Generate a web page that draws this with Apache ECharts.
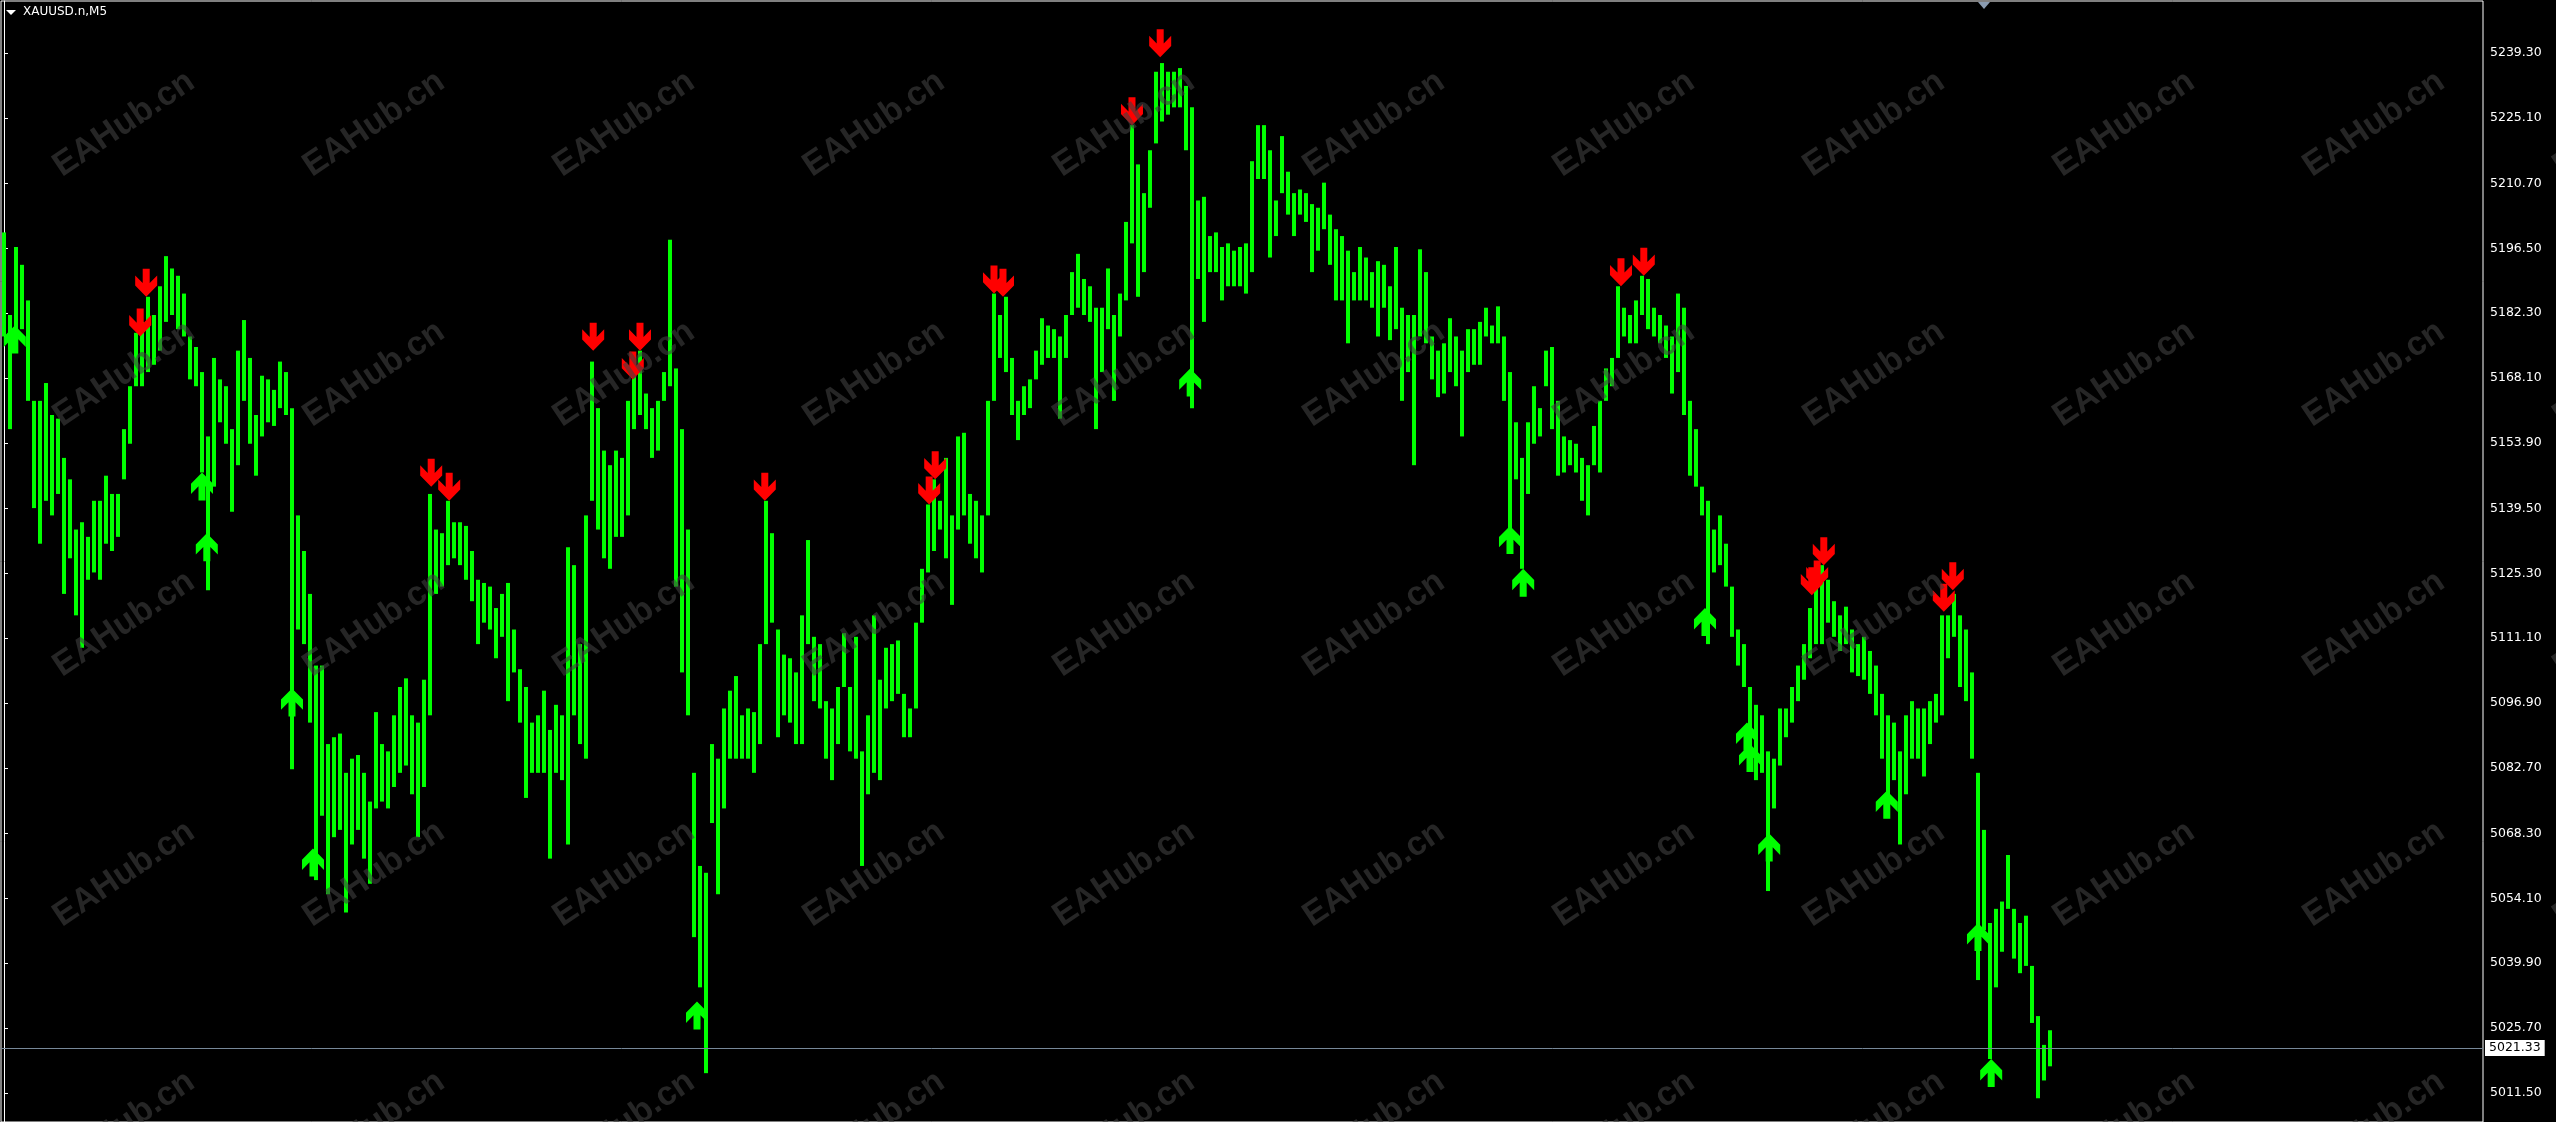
<!DOCTYPE html>
<html><head><meta charset="utf-8">
<script src="https://cdn.jsdelivr.net/npm/echarts@6/dist/echarts.min.js"></script>
<style>html,body{margin:0;padding:0;background:#000;overflow:hidden}#c{width:2556px;height:1122px}</style>
</head><body><div id="c"></div>
<script>
const symbolTitle = 'XAUUSD.n,M5';
const watermarkText = 'EAHub.cn';
const lastPrice = 5021.33;
const priceTicks = [5011.5,5025.7,5039.9,5054.1,5068.3,5082.7,5096.9,5111.1,5125.3,5139.5,5153.9,5168.1,5182.3,5196.5,5210.7,5225.1,5239.3];

const highs = [
5200.0,5181.9,5196.8,5192.9,5185.1,5163.1,5163.1,5167.0,5160.0,5159.2,
5150.6,5145.9,5134.9,5136.5,5133.3,5141.2,5141.2,5146.7,5142.7,5142.7,
5156.9,5166.3,5178.0,5180.4,5185.9,5181.9,5188.2,5194.8,5192.1,5190.5,
5186.6,5177.2,5174.9,5169.4,5155.3,5172.5,5167.8,5166.3,5156.9,5174.1,
5180.8,5172.5,5160.0,5168.6,5167.8,5165.5,5171.7,5169.4,5161.5,5138.0,
5130.2,5120.8,5105.1,5105.1,5087.9,5089.4,5090.2,5081.6,5084.7,5085.5,
5081.6,5075.3,5094.9,5087.9,5086.3,5094.2,5100.4,5102.3,5094.2,5092.6,
5102.0,5142.7,5134.9,5134.1,5141.2,5136.5,5136.5,5135.7,5130.2,5123.9,
5123.2,5122.4,5117.7,5120.8,5123.2,5113.0,5104.3,5100.4,5092.6,5094.2,
5099.6,5091.0,5096.5,5094.2,5131.0,5127.1,5109.8,5138.0,5171.7,5161.5,
5152.2,5149.0,5152.2,5150.6,5163.1,5169.4,5174.1,5164.7,5161.5,5163.1,
5169.4,5198.4,5170.2,5156.9,5134.9,5081.6,5061.2,5059.7,5087.9,5084.7,
5095.7,5099.6,5102.8,5094.2,5095.7,5094.9,5109.8,5141.2,5134.1,5113.0,
5107.5,5106.7,5103.6,5116.1,5132.6,5111.4,5109.8,5097.3,5095.7,5100.4,
5112.2,5100.4,5111.4,5086.3,5094.2,5116.1,5102.0,5109.0,5109.8,5110.6,
5098.9,5095.7,5114.5,5126.3,5140.4,5145.9,5141.2,5150.6,5138.0,5155.3,
5156.1,5142.7,5141.2,5138.0,5163.1,5186.6,5181.9,5185.9,5172.5,5163.1,
5166.3,5167.8,5174.1,5181.2,5179.6,5178.8,5177.2,5181.9,5191.3,5195.3,
5189.8,5188.2,5183.5,5183.5,5192.1,5181.9,5186.6,5202.3,5223.5,5214.9,
5208.6,5218.0,5235.2,5237.1,5235.2,5235.2,5236.0,5232.1,5227.4,5207.0,
5207.8,5199.2,5200.0,5196.8,5197.6,5196.0,5196.8,5197.6,5215.6,5223.5,
5223.5,5218.0,5207.0,5221.1,5213.3,5208.6,5209.4,5208.6,5206.2,5205.4,
5210.9,5203.9,5200.7,5199.2,5196.0,5191.3,5196.8,5194.5,5191.3,5193.7,
5192.9,5188.2,5196.8,5183.5,5181.9,5181.9,5196.3,5191.3,5177.2,5174.1,
5175.7,5181.2,5177.2,5174.1,5178.8,5178.8,5180.4,5183.5,5179.6,5183.8,
5177.2,5169.4,5158.4,5150.6,5158.4,5166.3,5161.5,5174.1,5174.9,5163.1,
5155.3,5154.5,5153.7,5150.6,5149.0,5157.6,5163.1,5170.2,5172.5,5188.2,
5183.5,5181.9,5185.1,5190.5,5189.8,5183.5,5181.9,5179.6,5177.2,5186.6,
5183.5,5163.1,5156.9,5144.3,5141.2,5134.9,5138.0,5131.8,5122.4,5113.0,
5109.8,5100.4,5096.5,5094.2,5086.3,5084.7,5095.7,5095.7,5100.4,5105.1,
5109.8,5117.7,5122.4,5127.1,5123.9,5119.2,5116.1,5118.0,5113.0,5109.8,
5111.4,5108.3,5105.1,5098.9,5094.2,5092.6,5086.3,5094.2,5097.3,5095.7,
5095.7,5097.3,5098.9,5116.1,5116.1,5120.8,5116.1,5113.0,5103.6,5081.6,
5069.1,5048.7,5051.8,5053.4,5063.6,5051.8,5048.7,5050.3,5039.3,5028.3,
5022.0,5025.2];

const lows = [
5177.2,5156.9,5175.7,5178.8,5163.1,5139.6,5131.8,5141.2,5138.0,5142.7,
5120.8,5128.6,5116.1,5109.0,5123.9,5125.5,5123.9,5131.8,5130.2,5133.3,
5145.9,5153.7,5166.3,5166.3,5169.4,5171.0,5174.1,5180.4,5181.9,5178.8,
5177.2,5167.8,5166.3,5147.4,5121.6,5144.3,5158.4,5153.7,5138.8,5149.0,
5163.1,5153.7,5146.7,5155.3,5158.4,5157.6,5161.5,5160.0,5082.4,5113.0,
5109.8,5092.6,5058.1,5072.2,5055.0,5067.5,5069.1,5051.0,5065.9,5069.1,
5062.8,5057.3,5073.8,5075.3,5073.8,5078.5,5081.6,5083.2,5076.9,5067.5,
5078.5,5094.2,5120.8,5122.4,5127.1,5128.6,5127.1,5123.9,5119.2,5109.8,
5114.5,5113.0,5106.7,5111.4,5097.3,5103.6,5092.6,5076.1,5081.6,5081.6,
5081.6,5062.8,5081.6,5080.0,5065.9,5094.2,5087.9,5084.7,5141.2,5134.9,
5128.6,5126.3,5133.3,5133.3,5138.0,5156.9,5160.0,5156.9,5150.6,5152.2,
5163.1,5166.3,5122.4,5103.6,5094.2,5045.6,5034.6,5015.8,5070.6,5055.0,
5073.8,5084.7,5084.7,5084.7,5084.7,5081.6,5087.9,5109.8,5114.5,5089.4,
5094.2,5092.6,5087.9,5087.9,5109.8,5097.3,5095.7,5084.7,5080.0,5087.9,
5100.4,5086.3,5084.7,5061.2,5076.9,5081.6,5080.0,5095.7,5097.3,5098.9,
5089.4,5089.4,5095.7,5114.5,5125.5,5130.2,5134.9,5128.6,5118.4,5134.9,
5138.0,5131.8,5128.6,5125.5,5138.0,5163.1,5172.5,5169.4,5160.0,5154.5,
5160.0,5161.5,5167.8,5171.0,5172.5,5172.5,5159.2,5172.5,5181.9,5183.5,
5181.9,5180.4,5156.9,5169.4,5178.8,5163.1,5177.2,5185.1,5197.6,5185.9,
5191.3,5205.4,5219.5,5224.3,5225.8,5227.4,5227.4,5218.0,5161.5,5189.8,
5180.4,5191.3,5191.3,5185.1,5188.2,5188.2,5188.2,5186.6,5191.3,5211.7,
5211.7,5194.5,5199.2,5208.6,5203.9,5199.2,5203.9,5202.3,5191.3,5196.0,
5200.7,5192.9,5185.1,5185.1,5175.7,5185.1,5185.1,5185.1,5183.5,5177.2,
5183.5,5176.4,5178.8,5163.1,5169.4,5149.0,5177.2,5175.7,5167.8,5163.9,
5164.7,5169.4,5166.3,5155.3,5169.4,5171.0,5171.0,5177.2,5175.7,5175.7,
5163.1,5131.8,5145.9,5126.3,5142.7,5153.7,5155.3,5166.3,5156.9,5146.7,
5147.4,5149.0,5147.4,5141.2,5138.0,5149.0,5147.4,5163.1,5166.3,5172.5,
5177.2,5175.7,5175.7,5181.9,5178.8,5177.2,5175.7,5172.5,5164.7,5169.4,
5160.0,5146.7,5144.3,5138.0,5109.8,5125.5,5127.1,5122.4,5111.4,5105.1,
5100.4,5084.7,5080.0,5081.6,5055.7,5073.8,5083.2,5089.4,5092.6,5097.3,
5102.0,5106.7,5109.8,5109.8,5114.5,5111.4,5108.3,5109.8,5103.6,5102.8,
5102.0,5098.9,5094.2,5084.7,5072.2,5080.0,5065.9,5076.9,5084.7,5084.7,
5080.8,5087.9,5092.6,5094.2,5106.7,5111.4,5100.4,5097.3,5084.7,5036.2,
5047.1,5018.9,5034.6,5042.4,5051.8,5040.9,5037.7,5039.3,5026.8,5010.3,
5014.2,5017.3];

// [bar index, price at arrow tip]
const sellArrows = [[22.7,5177.2],[23.7,5185.9],[71.2,5144.3],[74.2,5141.2],[98.2,5174.1],[104.8,5167.8],[106.0,5174.1],[126.8,5141.2],[154.2,5140.4],[155.2,5145.9],[165.0,5186.6],[166.5,5185.9],[188.0,5223.5],[192.7,5238.4],[269.5,5188.2],[273.3,5190.5],[301.3,5120.5],[302.2,5122.0],[303.3,5127.1],[323.3,5116.9],[324.8,5121.6]];
const buyArrows = [[1.8,5179.6],[33.0,5147.4],[33.8,5134.1],[48.0,5100.1],[51.5,5065.0],[115.5,5031.5],[197.7,5170.2],[251.0,5135.7],[253.2,5126.3],[283.5,5117.7],[290.5,5092.6],[291.0,5087.9],[294.2,5068.3],[313.8,5077.7],[329.0,5048.7],[331.2,5018.9]];

const chart = echarts.init(document.getElementById('c'), null, {renderer:'canvas'});
const bars = highs.map((h, i) => [i, lows[i], h]);
const downPath = 'path://M7.5 0H14.5V14L22 6.5V16.5L11 27.5L0 16.5V6.5L7.5 14Z';
const upPath = 'path://M7.5 27.5H14.5V13.5L22 21V11L11 0L0 11V21L7.5 13.5Z';

function renderBar(params, api) {
  const x = api.value(0), lo = api.value(1), hi = api.value(2);
  const p1 = api.coord([x, hi]);
  const p2 = api.coord([x, lo]);
  return {type:'rect', shape:{x: Math.round(p1[0]) - 2, y: p1[1], width: 4, height: Math.max(1, p2[1] - p1[1])},
          style:{fill:'#00ff00'}};
}

const graphics = [];
for (let r = 0; r < 5; r++) {
  for (let c = 0; c < 11; c++) {
    graphics.push({type:'text', x: 124 + 250 * c, y: 124 + 250 * r, rotation: 34 * Math.PI / 180, silent: true, z: 100,
      style:{text: watermarkText, font: 'bold 34px "Liberation Sans", Arial, sans-serif', fill: 'rgba(64,64,64,0.6)', align: 'center', verticalAlign: 'middle'}});
  }
}
graphics.push({type:'polygon', shape:{points:[[6,10],[16,10],[11,15]]}, style:{fill:'#ffffff'}, z: 110, silent: true});
graphics.push({type:'text', x: 23, y: 12, z: 110, silent: true, style:{text: symbolTitle, font: '12px "DejaVu Sans", sans-serif', fill:'#ffffff', verticalAlign:'middle'}});
graphics.push({type:'polygon', shape:{points:[[1978,2],[1990,2],[1984,9]]}, style:{fill:'#8a9bb0'}, z: 110, silent: true});

const option = {
  backgroundColor: '#000000',
  animation: false,
  grid: {left: 1, top: 1, right: 73, bottom: 0, show: true, borderColor: '#ffffff', borderWidth: 1, backgroundColor: '#000000'},
  xAxis: {type: 'value', min: -0.5, max: 413.17, show: false},
  yAxis: {type: 'value', position: 'right', min: 5005.1, max: 5250.7, scale: true,
    axisLine: {show: true, lineStyle: {color: '#ffffff', width: 1}},
    axisTick: {show: true, length: 4, customValues: priceTicks, lineStyle: {color: '#ffffff'}},
    axisLabel: {show: true, customValues: priceTicks, formatter: v => v.toFixed(2), color: '#ffffff', fontFamily: 'DejaVu Sans', fontSize: 12.5, margin: 7},
    splitLine: {show: false}},
  series: [
    {type: 'line', data: [], z: 1, silent: true,
      markLine: {silent: true, symbol: 'none', animation: false,
        lineStyle: {color: '#778899', width: 1, type: 'solid'},
        label: {show: true, position: 'end', formatter: lastPrice.toFixed(2), backgroundColor: '#ffffff', color: '#000000',
                padding: [2, 4, 1, 4], fontFamily: 'DejaVu Sans', fontSize: 12.5, distance: 2},
        data: [{yAxis: lastPrice}]}},
    {type: 'custom', renderItem: renderBar, data: bars, encode: {x: 0, y: [1, 2]}, z: 2, silent: true},
    {type: 'scatter', data: sellArrows, symbol: downPath, symbolSize: [22, 28], symbolOffset: [0, -14], itemStyle: {color: '#ff0000', opacity: 1}, z: 5, silent: true},
    {type: 'scatter', data: buyArrows, symbol: upPath, symbolSize: [22, 28], symbolOffset: [0, 14], itemStyle: {color: '#00ff00', opacity: 1}, z: 5, silent: true}
  ],
  graphic: graphics
};
chart.setOption(option);
</script>
</body></html>
